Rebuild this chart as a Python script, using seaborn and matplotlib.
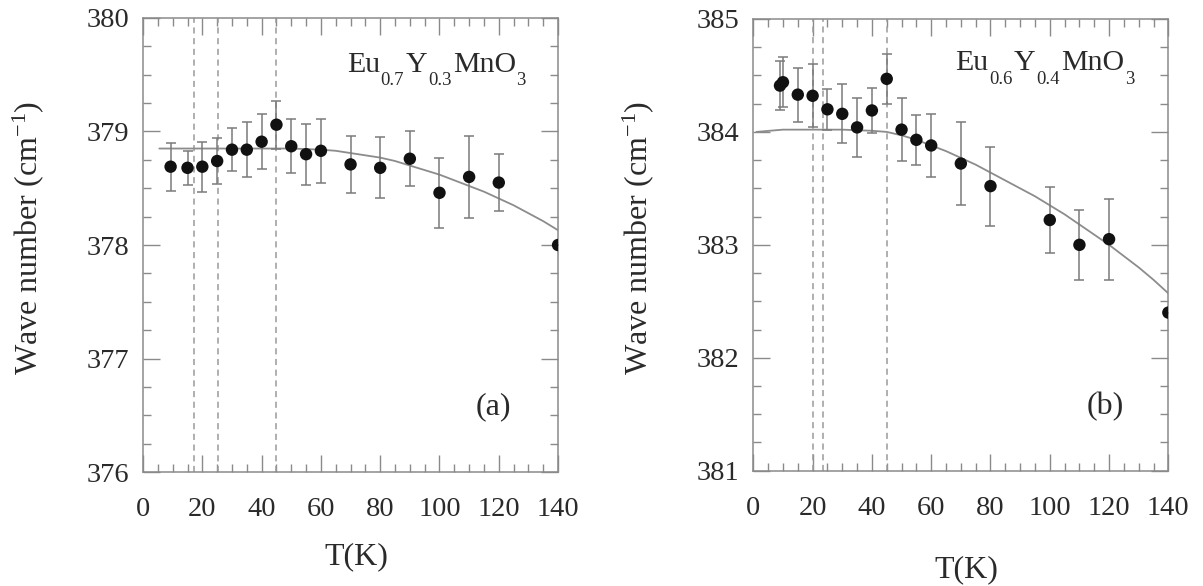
import matplotlib
matplotlib.use('Agg')
import matplotlib.pyplot as plt
from matplotlib.ticker import MultipleLocator
import seaborn as sns
import pandas as pd

# panel (a) Eu0.7Y0.3MnO3
T_a = [9.3, 15, 20, 25, 30, 35, 40, 45, 50, 55, 60, 70, 80, 90, 100, 110, 120, 140]
W_a = [378.69, 378.68, 378.69, 378.74, 378.84, 378.84, 378.91, 379.06, 378.87, 378.80,
       378.83, 378.71, 378.68, 378.76, 378.46, 378.60, 378.55, 378.00]
E_a = [0.21, 0.15, 0.22, 0.20, 0.19, 0.24, 0.24, 0.21, 0.24, 0.27,
       0.28, 0.25, 0.27, 0.24, 0.31, 0.36, 0.25, 0.0]
fitT_a = [5.5, 10, 20, 30, 40, 50, 60, 65, 70, 75, 80, 85, 90, 95, 100, 105, 110,
          115, 120, 125, 130, 135, 140]
fitW_a = [378.85, 378.85, 378.85, 378.85, 378.85, 378.85, 378.84, 378.83, 378.81, 378.79,
          378.77, 378.74, 378.70, 378.66, 378.62, 378.57, 378.52, 378.47, 378.41, 378.35,
          378.28, 378.21, 378.13]
vlines_a = [17.3, 25.4, 44.8]

# panel (b) Eu0.6Y0.4MnO3
T_b = [9, 10, 15, 20, 25, 30, 35, 40, 45, 50, 55, 60, 70, 80, 100, 110, 120, 140]
W_b = [384.41, 384.44, 384.33, 384.32, 384.20, 384.16, 384.04, 384.19, 384.47, 384.02,
       383.93, 383.88, 383.72, 383.52, 383.22, 383.00, 383.05, 382.40]
E_b = [0.22, 0.22, 0.24, 0.28, 0.18, 0.26, 0.26, 0.20, 0.22, 0.28,
       0.22, 0.28, 0.37, 0.35, 0.29, 0.31, 0.36, 0.0]
fitT_b = [1, 10, 20, 30, 40, 45, 50, 55, 60, 65, 70, 75, 80, 85, 90, 95, 100, 105, 110,
          115, 120, 125, 130, 135, 140]
fitW_b = [384.00, 384.02, 384.02, 384.02, 384.01, 384.00, 383.97, 383.93, 383.88, 383.83,
          383.77, 383.71, 383.64, 383.57, 383.50, 383.43, 383.35, 383.27, 383.18, 383.09,
          383.00, 382.90, 382.80, 382.69, 382.57]
vlines_b = [20.2, 23.4, 45.1]

sns.set_theme(style='ticks')
plt.rcParams['font.family'] = ['Liberation Serif', 'DejaVu Serif']
plt.rcParams['mathtext.fontset'] = 'custom'
plt.rcParams['mathtext.rm'] = 'Liberation Serif'
plt.rcParams['mathtext.it'] = 'Liberation Serif:italic'
plt.rcParams['mathtext.bf'] = 'Liberation Serif:bold'

AX_COL = '#8a8a8a'
TXT_COL = '#2a2a2a'

fig = plt.figure(figsize=(12.03, 5.86), dpi=100)
ax_a = fig.add_axes([0.1189, 0.1945, 0.345, 0.7748])
ax_b = fig.add_axes([0.6262, 0.1968, 0.345, 0.7708])


def chem_formula(ax, x, y, parts):
    # parts: list of (text, is_subscript); subscripts sit fully below the baseline
    first = ax.annotate(parts[0][0], xy=(x, y), xycoords='axes fraction', fontsize=21.5,
                        color=TXT_COL, ha='left', va='baseline')
    prev = first
    for txt, sub in parts[1:]:
        if sub:
            prev = ax.annotate(txt, xy=(1, 0), xycoords=prev, xytext=(0.5, 4),
                               textcoords='offset points', fontsize=13.5,
                               color=TXT_COL, ha='left', va='top')
        else:
            prev = ax.annotate(txt, xy=(1, 0), xycoords=(prev, first), xytext=(1, 0),
                               textcoords='offset points', fontsize=21.5,
                               color=TXT_COL, ha='left', va='bottom')


def draw_panel(ax, T, W, E, fT, fW, vls, ylim, parts, tag, fpos, xlab_y):
    for v in vls:
        ax.axvline(v, color='#9a9a9a', lw=1.1, ls=(0, (4, 3)), zorder=1)
    sns.lineplot(x=fT, y=fW, ax=ax, color='#8c8c8c', lw=1.3, zorder=2)
    ax.errorbar(T, W, yerr=E, fmt='none', ecolor='#7a7a7a', elinewidth=1.1,
                capsize=3.8, capthick=1.1, zorder=2)
    df = pd.DataFrame({'T': T, 'W': W})
    sns.scatterplot(data=df, x='T', y='W', ax=ax, color='#111111', s=80,
                    edgecolor='none', zorder=3)

    ax.set_xlim(0, 140)
    ax.set_ylim(*ylim)
    ax.xaxis.set_major_locator(MultipleLocator(20))
    ax.xaxis.set_minor_locator(MultipleLocator(5))
    ax.yaxis.set_major_locator(MultipleLocator(1))
    ax.yaxis.set_minor_locator(MultipleLocator(0.25))
    ax.tick_params(which='both', direction='in', top=True, right=True,
                   color=AX_COL, width=1.0, labelsize=20.5, labelcolor=TXT_COL)
    ax.tick_params(which='major', length=12)
    ax.tick_params(which='minor', length=5.5)
    ax.tick_params(axis='x', which='major', pad=18)
    ax.tick_params(axis='y', which='major', pad=10)
    for s in ax.spines.values():
        s.set_color(AX_COL)
        s.set_linewidth(1.1)

    ax.set_ylabel(r'Wave number (cm$^{-1}$)', fontsize=23, color=TXT_COL)
    ax.yaxis.set_label_coords(-0.234, 0.515)
    ax.set_xlabel('T(K)', fontsize=23, color=TXT_COL)
    ax.xaxis.set_label_coords(0.513, xlab_y)

    chem_formula(ax, fpos[0], fpos[1], parts)
    ax.text(fpos[2], fpos[3], tag, transform=ax.transAxes, fontsize=23,
            color=TXT_COL, ha='center', va='center')


draw_panel(ax_a, T_a, W_a, E_a, fitT_a, fitW_a, vlines_a, (376, 380),
           [('Eu', False), ('0.7', True), ('Y', False), ('0.3', True), ('MnO', False), ('3', True)],
           '(a)', (0.491, 0.882, 0.843, 0.143), -0.155)
draw_panel(ax_b, T_b, W_b, E_b, fitT_b, fitW_b, vlines_b, (381, 385),
           [('Eu', False), ('0.6', True), ('Y', False), ('0.4', True), ('MnO', False), ('3', True)],
           '(b)', (0.486, 0.886, 0.847, 0.141), -0.188)

fig.savefig('out.png', dpi=100)
